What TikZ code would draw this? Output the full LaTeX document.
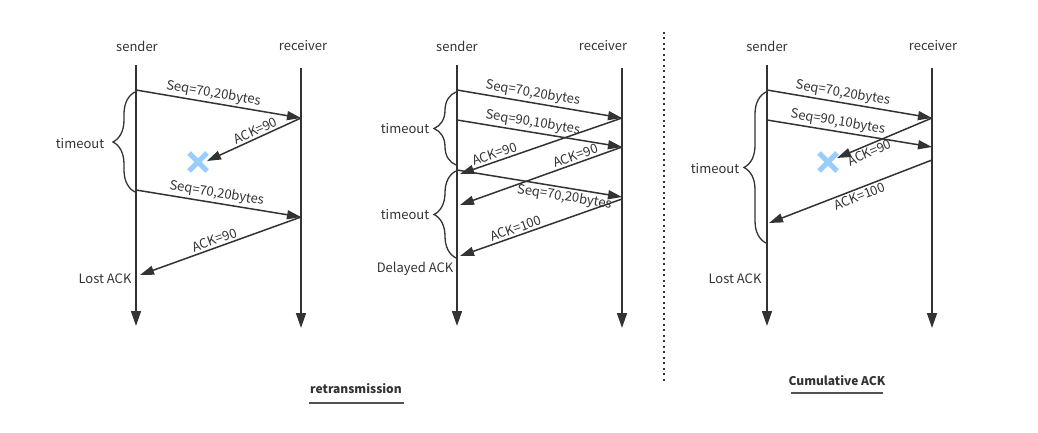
\documentclass[tikz,border=0pt]{standalone}
\usepackage{fontspec}
\setmainfont{Noto Sans CJK SC}
\usetikzlibrary{arrows.meta,decorations.pathreplacing,calc}
\definecolor{ink}{HTML}{333333}
\definecolor{crossblue}{HTML}{99CCFF}
\begin{document}
\begin{tikzpicture}[x=1pt,y=-1pt,
  every node/.style={text=ink,font=\fontsize{13}{15}\selectfont,inner sep=1pt},
  life/.style={draw=ink,line width=1.6pt,-{Triangle[length=15pt,width=10pt]}},
  msg/.style={draw=ink,line width=1.5pt,-{Triangle[length=14pt,width=9pt]}},
  brc/.style={draw=ink,line width=1.3pt,decorate,decoration={brace,amplitude=22pt}},
  lab/.style={sloped,above,inner sep=2pt},
  labb/.style={sloped,below,inner sep=2pt},
  xmark/.style={draw=crossblue,line width=5pt},
  title/.style={font=\bfseries\fontsize{12}{14}\selectfont},
  uline/.style={draw=ink!85,line width=2.2pt}]
\useasboundingbox (0,0) rectangle (1038,433);

% ---------------- panel 1 ----------------
\node (h1s) at (137,46) {sender};
\node (h1r) at (303,46) {receiver};
\coordinate (s1t) at (136,65);  \coordinate (s1b) at (136,326);
\coordinate (r1t) at (301,68);  \coordinate (r1b) at (301,328);
\draw[life] (s1t) -- (s1b);
\draw[life] (r1t) -- (r1b);
\coordinate (p1a) at (136,90);  \coordinate (q1a) at (301,118);
\coordinate (x1)  at (198,162); \coordinate (q1x) at (207,161);
\coordinate (p1b) at (136,190); \coordinate (q1b) at (301,217);
\coordinate (p1c) at (140,275);
\draw[msg] (p1a) -- node[lab,pos=0.46] {Seq=70,20bytes} (q1a);
\draw[msg] (q1a) -- node[lab,pos=0.45] {ACK=90} (q1x);
\draw[msg] (p1b) -- node[lab,pos=0.48] {Seq=70,20bytes} (q1b);
\draw[msg] (q1b) -- node[lab,pos=0.52] {ACK=90} (p1c);
\draw[xmark] ($(x1)+(-9,-9)$) -- ($(x1)+(9,9)$);
\draw[xmark] ($(x1)+(-9,9)$) -- ($(x1)+(9,-9)$);
\coordinate (b1t) at (135,92); \coordinate (b1b) at (135,192);
\draw[brc] (b1b) -- (b1t);
\node (t1) at (80,144) {timeout};
\node (l1) at (105,279) {Lost ACK};

% ---------------- panel 2 ----------------
\node (h2s) at (457,46) {sender};
\node (h2r) at (603,46) {receiver};
\coordinate (s2t) at (457,65);  \coordinate (s2b) at (457,326);
\coordinate (r2t) at (622,68);  \coordinate (r2b) at (622,328);
\draw[life] (s2t) -- (s2b);
\draw[life] (r2t) -- (r2b);
\coordinate (p2a) at (457,90);  \coordinate (q2a) at (622,118);
\coordinate (p2b) at (457,120); \coordinate (q2b) at (622,147);
\coordinate (p2c) at (460,174); \coordinate (p2d) at (460,205);
\coordinate (p2e) at (457,170); \coordinate (q2e) at (622,197);
\coordinate (q2f) at (622,199); \coordinate (p2f) at (460,256);
\draw[msg] (p2a) -- node[lab,pos=0.45] {Seq=70,20bytes} (q2a);
\draw[msg] (p2b) -- node[lab,pos=0.45] {Seq=90,10bytes} (q2b);
\draw[msg] (q2a) -- node[lab,pos=0.77] {ACK=90} (p2c);
\draw[msg] (q2b) -- node[lab,pos=0.27] {ACK=90} (p2d);
\draw[msg] (p2e) -- node[labb,pos=0.66] {Seq=70,20bytes} (q2e);
\draw[msg] (q2f) -- node[lab,pos=0.64] {ACK=100} (p2f);
\coordinate (b2t) at (456,92);  \coordinate (b2b) at (456,165);
\coordinate (b2u) at (456,171); \coordinate (b2v) at (456,258);
\draw[brc] (b2b) -- (b2t);
\draw[brc] (b2v) -- (b2u);
\node (t2a) at (405,129) {timeout};
\node (t2b) at (405,215) {timeout};
\node (l2) at (415,269) {Delayed ACK};

% ---------------- panel 3 ----------------
\node (h3s) at (767,46) {sender};
\node (h3r) at (933,46) {receiver};
\coordinate (s3t) at (767,65);  \coordinate (s3b) at (767,326);
\coordinate (r3t) at (932,68);  \coordinate (r3b) at (932,328);
\draw[life] (s3t) -- (s3b);
\draw[life] (r3t) -- (r3b);
\coordinate (p3a) at (767,90);  \coordinate (q3a) at (932,118);
\coordinate (p3b) at (767,120); \coordinate (q3b) at (932,147);
\coordinate (x3)  at (828,162); \coordinate (q3x) at (837,158);
\coordinate (q3c) at (932,160); \coordinate (p3c) at (769,223);
\draw[msg] (p3a) -- node[lab,pos=0.45] {Seq=70,20bytes} (q3a);
\draw[msg] (p3b) -- node[lab,pos=0.42] {Seq=90,10bytes} (q3b);
\draw[msg] (q3a) -- node[labb,pos=0.69] {ACK=90} (q3x);
\draw[msg] (q3c) -- node[labb,pos=0.46] {ACK=100} (p3c);
\draw[xmark] ($(x3)+(-9,-9)$) -- ($(x3)+(9,9)$);
\draw[xmark] ($(x3)+(-9,9)$) -- ($(x3)+(9,-9)$);
\coordinate (b3t) at (766,92); \coordinate (b3b) at (766,243);
\draw[brc] (b3b) -- (b3t);
\node (t3) at (715,169) {timeout};
\node (l3) at (735,279) {Lost ACK};

% ---------------- separators and titles ----------------
\coordinate (dt) at (664,32); \coordinate (db) at (664,382);
\draw[draw=ink,line width=1.6pt,dash pattern=on 2pt off 3.5pt] (dt) -- (db);
\node[title] (ttl1) at (356,389) {retransmission};
\coordinate (u1a) at (309,403); \coordinate (u1b) at (404,403);
\draw[uline] (u1a) -- (u1b);
\node[title] (ttl2) at (837,381) {Cumulative ACK};
\coordinate (u2a) at (791,393); \coordinate (u2b) at (883,393);
\draw[uline] (u2a) -- (u2b);
\end{tikzpicture}
\end{document}
